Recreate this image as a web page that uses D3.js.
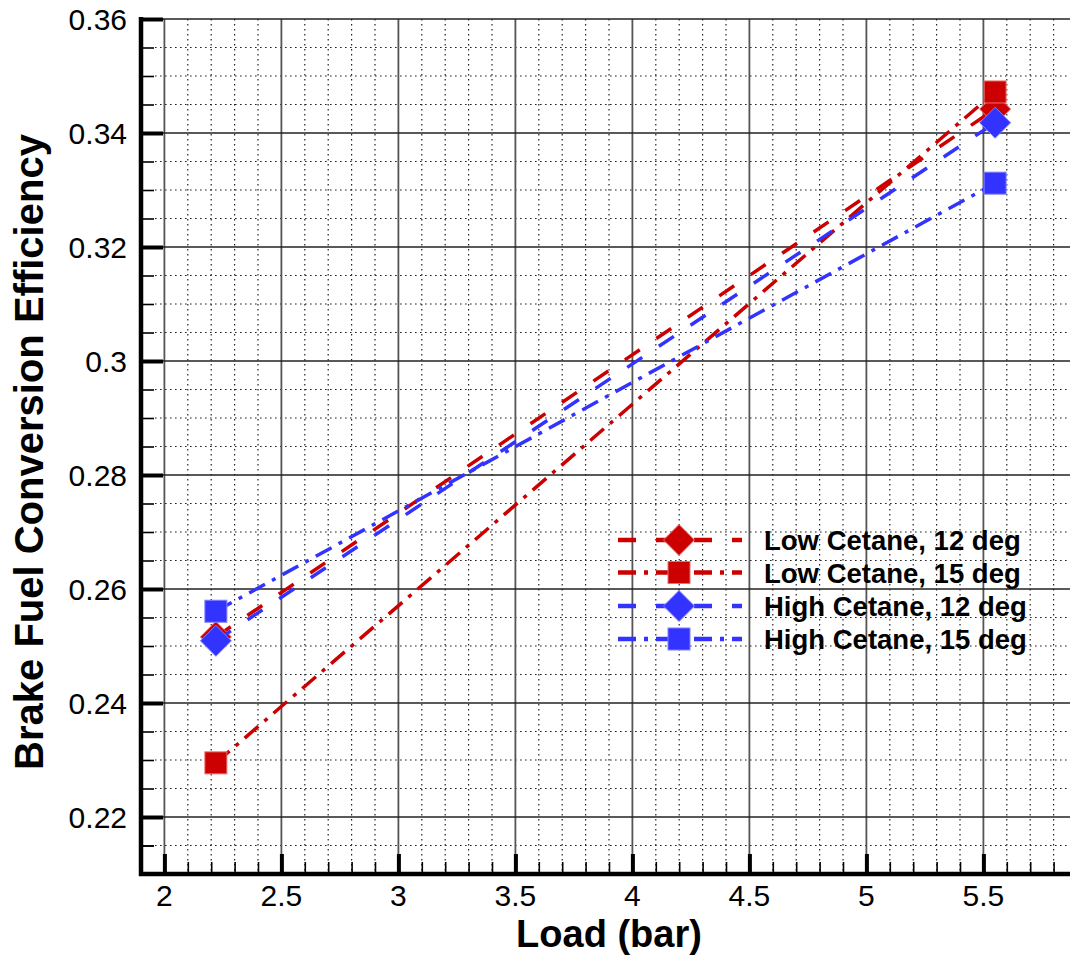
<!DOCTYPE html>
<html><head><meta charset="utf-8">
<script src="https://cdn.jsdelivr.net/npm/d3@7"></script>
<style>html,body{margin:0;padding:0;background:#fff;overflow:hidden}</style>
</head><body>
<svg id="chart" width="1070" height="955"></svg>
<script>
// ---- data ----
const loads = [2.22, 5.55];
const lowCetane12 = [0.2516, 0.3442];
const lowCetane15 = [0.2295, 0.3472];
const highCetane12 = [0.2509, 0.3418];
const highCetane15 = [0.2561, 0.3312];
const seriesNames = ["Low Cetane, 12 deg", "Low Cetane, 15 deg", "High Cetane, 12 deg", "High Cetane, 15 deg"];
const seriesColors = ["#cc0000", "#cc0000", "#3333ff", "#3333ff"];
const seriesBorder = ["#e87070", "#e87070", "#8080ff", "#8080ff"];
const seriesSymbols = ["diamond", "square", "diamond", "square"];
const seriesDash = ["dash", "dashdot", "dash", "dashdot"];
const xTicks = [2, 2.5, 3, 3.5, 4, 4.5, 5, 5.5];
const xTickLabels = ["2", "2.5", "3", "3.5", "4", "4.5", "5", "5.5"];
const yTicks = [0.22, 0.24, 0.26, 0.28, 0.30, 0.32, 0.34, 0.36];
const yTickLabels = ["0.22", "0.24", "0.26", "0.28", "0.3", "0.32", "0.34", "0.36"];
const xTitle = "Load (bar)";
const yTitle = "Brake Fuel Conversion Efficiency";

const seriesValues = [lowCetane12, lowCetane15, highCetane12, highCetane15];

// ---- layout ----
const svg = d3.select("#chart");
const FONT = "'Liberation Sans', Arial, Helvetica, sans-serif";
const x = d3.scaleLinear().domain([1.9, 6.0]).range([141, 1100.4]);
const y = d3.scaleLinear().domain([0.21, 0.36]).range([874, 19]);
const yTop = y(0.36), yBot = y(0.21), xLeft = x(1.9), xRight = 1075;

const dashes = { dash: "18,20", dashdot: "18,8,4,8" };

// minor grid
const xMinor = d3.range(20, 60).map(i => i / 10).filter(v => Math.abs(v * 2 - Math.round(v * 2)) > 1e-6);
const yMinor = d3.range(43, 72).map(i => i * 0.005).filter(v => Math.abs(v / 0.02 - Math.round(v / 0.02)) > 1e-6);

const grid = svg.append("g");
grid.selectAll(".xm").data(xMinor).enter().append("line")
  .attr("x1", d => x(d)).attr("x2", d => x(d)).attr("y1", yTop).attr("y2", yBot)
  .attr("stroke", "#222").attr("stroke-width", 1.2).attr("stroke-dasharray", "1.6,3.4");
grid.selectAll(".ym").data(yMinor).enter().append("line")
  .attr("x1", xLeft + 14).attr("x2", xRight).attr("y1", d => y(d)).attr("y2", d => y(d))
  .attr("stroke", "#222").attr("stroke-width", 1.2).attr("stroke-dasharray", "1.6,3.4");
// major grid
grid.selectAll(".xM").data(xTicks).enter().append("line")
  .attr("x1", d => x(d)).attr("x2", d => x(d)).attr("y1", yTop).attr("y2", yBot)
  .attr("stroke", "#555").attr("stroke-width", 1.8);
grid.selectAll(".yM").data(yTicks).enter().append("line")
  .attr("x1", xLeft).attr("x2", xRight).attr("y1", d => y(d)).attr("y2", d => y(d))
  .attr("stroke", "#222").attr("stroke-width", 1.6);

// axes (custom styled via d3 axes)
const xAxisMajor = d3.axisTop(x).tickValues(xTicks).tickSize(20).tickFormat("");
const xAxisMinor = d3.axisTop(x).tickValues(xMinor).tickSize(12).tickFormat("");
const yAxisMajor = d3.axisRight(y).tickValues(yTicks).tickSize(22).tickFormat("");
const yAxisMinor = d3.axisRight(y).tickValues(yMinor.concat([0.215])).tickSize(13).tickFormat("");

function styleAxis(g, w) {
  g.select(".domain").remove();
  g.selectAll(".tick line").attr("stroke", "#000").attr("stroke-width", w);
}
svg.append("g").attr("transform", `translate(0,${yBot})`).call(xAxisMinor).call(g => styleAxis(g, 1.6));
svg.append("g").attr("transform", `translate(0,${yBot})`).call(xAxisMajor).call(g => styleAxis(g, 4));
svg.append("g").attr("transform", `translate(${xLeft},0)`).call(yAxisMinor).call(g => styleAxis(g, 1.6));
svg.append("g").attr("transform", `translate(${xLeft},0)`).call(yAxisMajor).call(g => styleAxis(g, 4));

svg.append("line").attr("x1", xLeft).attr("x2", xLeft).attr("y1", yTop - 2).attr("y2", yBot + 2)
  .attr("stroke", "#000").attr("stroke-width", 4.5);
svg.append("line").attr("x1", xLeft - 2).attr("x2", xRight).attr("y1", yBot).attr("y2", yBot)
  .attr("stroke", "#000").attr("stroke-width", 4.5);

// tick labels
svg.append("g").selectAll("text").data(xTicks).enter().append("text")
  .attr("x", d => x(d)).attr("y", 906).attr("text-anchor", "middle")
  .attr("font-family", FONT).attr("font-size", 30).attr("fill", "#000")
  .text((d, i) => xTickLabels[i]);
svg.append("g").selectAll("text").data(yTicks).enter().append("text")
  .attr("x", 127).attr("y", d => y(d) + 11).attr("text-anchor", "end")
  .attr("font-family", FONT).attr("font-size", 30).attr("fill", "#000")
  .text((d, i) => yTickLabels[i]);

// titles
svg.append("text").attr("x", 609).attr("y", 946.5).attr("text-anchor", "middle")
  .attr("font-family", FONT).attr("font-size", 38).attr("font-weight", "bold").text(xTitle);
svg.append("text").attr("transform", "translate(43,452) rotate(-90)").attr("text-anchor", "middle")
  .attr("font-family", FONT).attr("font-size", 40).attr("font-weight", "bold").text(yTitle);

// markers
function drawMarker(g, sym, cx, cy, fill, border) {
  if (sym === "square") {
    g.append("rect").attr("x", cx - 11).attr("y", cy - 11).attr("width", 22).attr("height", 22)
      .attr("fill", fill).attr("stroke", border).attr("stroke-width", 1);
  } else {
    const r = 15.5;
    g.append("path").attr("d", `M${cx},${cy - r}L${cx + r},${cy}L${cx},${cy + r}L${cx - r},${cy}Z`)
      .attr("fill", fill).attr("stroke", border).attr("stroke-width", 1);
  }
}

// series
const plot = svg.append("g");
const line = d3.line().x(d => x(d[0])).y(d => y(d[1]));
seriesValues.forEach((vals, i) => {
  const pts = loads.map((l, j) => [l, vals[j]]);
  const g = plot.append("g");
  g.append("path").attr("d", line(pts)).attr("fill", "none")
    .attr("stroke", seriesColors[i]).attr("stroke-width", 3.5)
    .attr("stroke-dasharray", dashes[seriesDash[i]]);
  pts.forEach(p => drawMarker(g, seriesSymbols[i], x(p[0]), y(p[1]), seriesColors[i], seriesBorder[i]));
});

// legend
const legend = svg.append("g");
const legRows = [540, 572.5, 606, 639];
seriesNames.forEach((name, i) => {
  const ly = legRows[i];
  legend.append("line").attr("x1", 618).attr("x2", 742).attr("y1", ly).attr("y2", ly)
    .attr("stroke", seriesColors[i]).attr("stroke-width", 4.5)
    .attr("stroke-dasharray", dashes[seriesDash[i]]);
  drawMarker(legend, seriesSymbols[i], 679, ly, seriesColors[i], seriesBorder[i]);
  legend.append("text").attr("x", 764).attr("y", ly + 10)
    .attr("font-family", FONT).attr("font-size", 27.5).attr("font-weight", "bold").attr("fill", "#000")
    .text(name);
});
</script>
</body></html>
